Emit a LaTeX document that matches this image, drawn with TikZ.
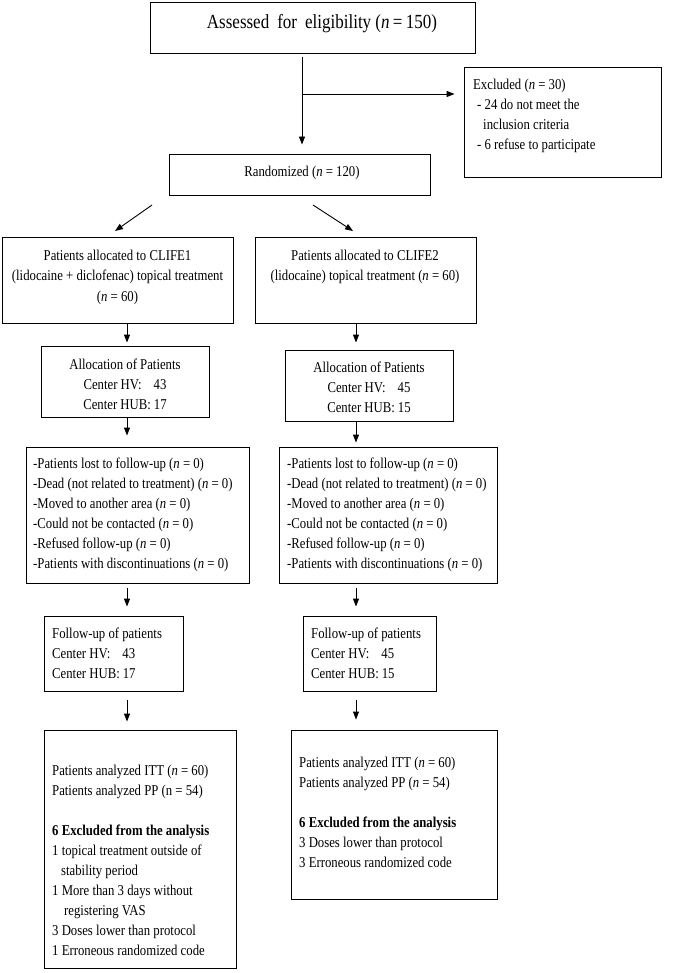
\documentclass[tikz,border=0pt]{standalone}
\usepackage{fontspec}
\setmainfont{Liberation Serif}[FakeStretch=0.85]
\usetikzlibrary{arrows.meta,fit}
\begin{document}
\begin{tikzpicture}[x=1pt,y=-1pt,
  box/.style={draw,line width=0.9pt,inner sep=0pt},
  txt/.style={inner sep=0pt,anchor=base west,align=left,font=\fontsize{15}{20}\selectfont},
  ctxt/.style={inner sep=0pt,anchor=base,align=center,font=\fontsize{15}{20}\selectfont},
  arr/.style={-{Triangle[width=6pt,length=8pt]},line width=0.9pt}]
\useasboundingbox (0,0) rectangle (700,973);
% boxes
\node[box,fit={(150,2) (475,53)}] (top) {};
\node[box,fit={(464,67) (661,177)}] (excl) {};
\node[box,fit={(169,154) (430,195)}] (rand) {};
\node[box,fit={(2,237) (233,323)}] (c1) {};
\node[box,fit={(255,237) (476,323)}] (c2) {};
\node[box,fit={(41,346) (209,417)}] (a1) {};
\node[box,fit={(285,350) (453,421)}] (a2) {};
\node[box,fit={(26,447) (249,583)}] (l1) {};
\node[box,fit={(279,447) (497,583)}] (l2) {};
\node[box,fit={(44,616) (183,691)}] (f1) {};
\node[box,fit={(303,616) (436,691)}] (f2) {};
\node[box,fit={(44,730) (236,968)}] (r1) {};
\node[box,fit={(291,730) (497,899)}] (r2) {};
% texts
\node[ctxt,font=\fontsize{20}{20}\selectfont] (ttop) at (322,29) {Assessed\hspace{8pt}for\hspace{8pt}eligibility (\textit{n}\,=\,150)};
\node[txt] (texcl) at (473,150) {Excluded (\textit{n} = 30)\\\hspace*{4pt}- 24 do not meet the\\\hspace*{10pt}inclusion criteria\\\hspace*{4pt}- 6 refuse to participate};
\node[ctxt] (trand) at (302,177) {Randomized (\textit{n} = 120)};
\node[ctxt] (tc1) at (117.5,301) {Patients allocated to CLIFE1\\(lidocaine + diclofenac) topical treatment\\(\textit{n} = 60)};
\node[ctxt] (tc2) at (365,280) {Patients allocated to CLIFE2\\(lidocaine) topical treatment (\textit{n} = 60)};
\node[ctxt] (ta1) at (125,409) {Allocation of Patients\\Center HV:\hspace{12pt}43\\Center HUB:\hspace{3pt}17};
\node[ctxt] (ta2) at (369,412) {Allocation of Patients\\Center HV:\hspace{12pt}45\\Center HUB:\hspace{3pt}15};
\node[txt] (tl1) at (33,568) {-Patients lost to follow-up (\textit{n} = 0)\\-Dead (not related to treatment) (\textit{n} = 0)\\-Moved to another area (\textit{n} = 0)\\-Could not be contacted (\textit{n} = 0)\\-Refused follow-up (\textit{n} = 0)\\-Patients with discontinuations (\textit{n} = 0)};
\node[txt] (tl2) at (287,568) {-Patients lost to follow-up (\textit{n} = 0)\\-Dead (not related to treatment) (\textit{n} = 0)\\-Moved to another area (\textit{n} = 0)\\-Could not be contacted (\textit{n} = 0)\\-Refused follow-up (\textit{n} = 0)\\-Patients with discontinuations (\textit{n} = 0)};
\node[txt] (tf1) at (52,678) {Follow-up of patients\\Center HV:\hspace{12pt}43\\Center HUB:\hspace{3pt}17};
\node[txt] (tf2) at (311,678) {Follow-up of patients\\Center HV:\hspace{12pt}45\\Center HUB:\hspace{3pt}15};
\node[txt] (tr1) at (52,955) {Patients analyzed ITT (\textit{n} = 60)\\Patients analyzed PP (n = 54)\\[20pt]\textbf{6 Excluded from the analysis}\\1 topical treatment outside of\\\hspace*{9pt}stability period\\1 More than 3 days without\\\hspace*{12pt}registering VAS\\3 Doses lower than protocol\\1 Erroneous randomized code};
\node[txt] (tr2) at (299,867) {Patients analyzed ITT (\textit{n} = 60)\\Patients analyzed PP (\textit{n} = 54)\\[20pt]\textbf{6 Excluded from the analysis}\\3 Doses lower than protocol\\3 Erroneous randomized code};
% connectors
\coordinate (xm) at (302,0);
\coordinate (xl) at (127,0);
\coordinate (xr) at (356,0);
\coordinate (br) at (302,94);
\draw[arr,shorten <=4pt,shorten >=9pt] (xm |- top.south) -- (xm |- rand.north);
\draw[arr,shorten >=9pt] (br) -- (br -| excl.west);
\coordinate (dl1) at (152,205);
\coordinate (dl2) at (115,231);
\coordinate (dr1) at (313,205);
\coordinate (dr2) at (353,231);
\draw[arr] (dl1) -- (dl2);
\draw[arr] (dr1) -- (dr2);
\draw[arr,shorten >=3pt] (xl |- c1.south) -- (xl |- a1.north);
\draw[arr,shorten >=7pt] (xr |- c2.south) -- (xr |- a2.north);
\draw[arr,shorten >=11pt] (xl |- a1.south) -- (xl |- l1.north);
\draw[arr,shorten >=4pt] (xr |- a2.south) -- (xr |- l2.north);
\draw[arr,shorten <=5pt,shorten >=9pt] (xl |- l1.south) -- (xl |- f1.north);
\draw[arr,shorten <=5pt,shorten >=9pt] (xr |- l2.south) -- (xr |- f2.north);
\draw[arr,shorten <=9pt,shorten >=8pt] (xl |- f1.south) -- (xl |- r1.north);
\draw[arr,shorten <=9pt,shorten >=10pt] (xr |- f2.south) -- (xr |- r2.north);
\end{tikzpicture}
\end{document}
